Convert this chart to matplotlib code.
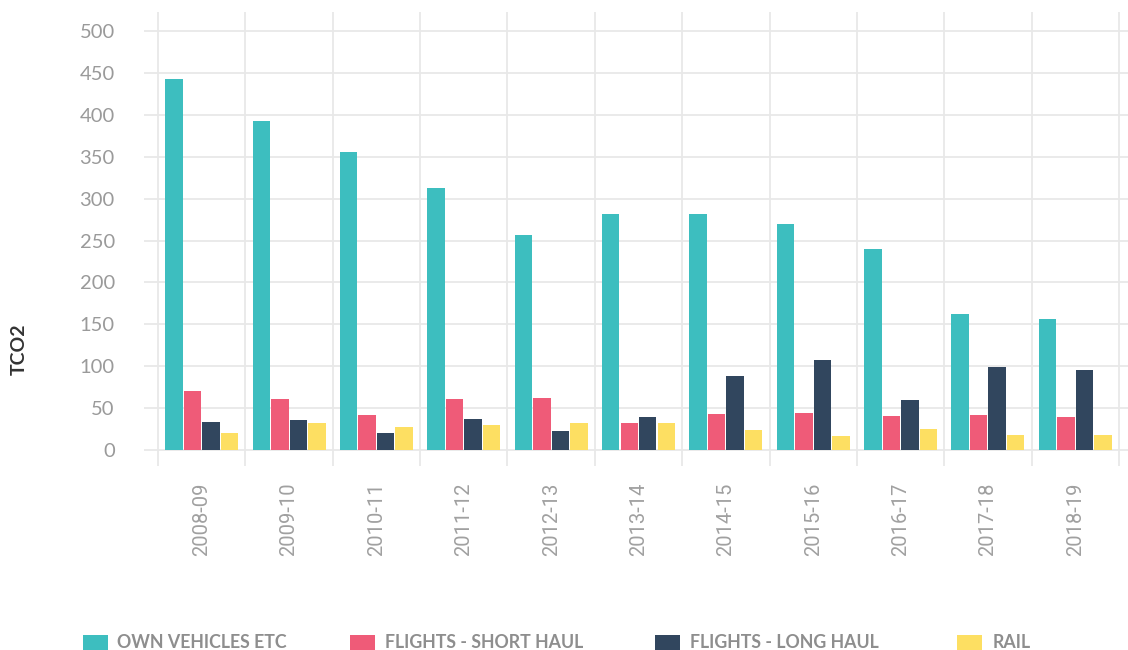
import matplotlib
matplotlib.use("Agg")
import matplotlib.pyplot as plt
import numpy as np
from matplotlib.patches import Rectangle

years = ["2008-09", "2009-10", "2010-11", "2011-12", "2012-13", "2013-14",
         "2014-15", "2015-16", "2016-17", "2017-18", "2018-19"]
own_vehicles = [443, 393, 356, 313, 257, 282, 282, 270, 240, 162, 156]
short_haul = [71, 61, 42, 61, 62, 32, 43, 44, 41, 42, 39]
long_haul = [33, 36, 20, 37, 23, 39, 88, 107, 60, 99, 95]
rail = [20, 32, 28, 30, 32, 32, 24, 17, 25, 18, 18]
series_names = ["OWN VEHICLES ETC", "FLIGHTS - SHORT HAUL", "FLIGHTS - LONG HAUL", "RAIL"]
colors = ["#3DBEBF", "#EF5B78", "#31465E", "#FDDF62"]
yticks = [0, 50, 100, 150, 200, 250, 300, 350, 400, 450, 500]

W, H = 1128, 650
fig = plt.figure(figsize=(W / 100, H / 100), dpi=100)
fig.patch.set_facecolor("white")

ax_left, ax_right, ax_top, ax_bot = 144, 1128, 12, 466
ax = fig.add_axes([ax_left / W, 1 - ax_bot / H, (ax_right - ax_left) / W, (ax_bot - ax_top) / H])

pitch = (1119 - 158) / 11.0
ax.set_xlim(-0.5 - 14 / pitch, 10.5 + 9 / pitch)
ppu = (450 - 31) / 500.0
ax.set_ylim(-16 / ppu, 500 + 19 / ppu)

grid_c = "#E8E8E8"
for v in yticks:
    ax.axhline(v, color=grid_c, lw=1.3, zorder=0)
for b in np.arange(-0.5, len(years) + 0.5, 1.0):
    ax.axvline(b, color=grid_c, lw=1.3, zorder=0)

x = np.arange(len(years))
data = [own_vehicles, short_haul, long_haul, rail]
bp = 0.212
for i, (vals, c) in enumerate(zip(data, colors)):
    ax.bar(x + (i - 1.5) * bp, vals, width=bp - 0.012, color=c, zorder=2, linewidth=0)

for s in ax.spines.values():
    s.set_visible(False)

ax.set_yticks(yticks)
ax.set_yticklabels([str(v) for v in yticks], family="Lato", fontsize=14.5, color="#9A9A9A")
ax.tick_params(axis="y", length=0, pad=21)
ax.set_xticks(x)
ax.set_xticklabels(years, rotation=90, family="Roboto", fontweight="normal",
                   fontsize=14.5, color="#A0A0A0")
ax.tick_params(axis="x", length=0, pad=12)

fig.text(19 / W, 1 - 349 / H, "TCO2", rotation=90, ha="center", va="center",
         family="Lato", fontweight="bold", fontsize=14, color="#333333")

sq_x = [83, 350, 655, 957]
txt_x = [117, 385, 690, 993]
for sx, tx, name, c in zip(sq_x, txt_x, series_names, colors):
    fig.patches.append(Rectangle((sx / W, 1 - 652 / H), 25 / W, 17 / H,
                                 transform=fig.transFigure, facecolor=c,
                                 edgecolor="none", figure=fig))
    fig.text(tx / W, 1 - 643 / H, name, ha="left", va="center", family="Lato",
             fontweight="bold", fontsize=12.8, color="#8E8E8E")

fig.savefig("out.png", dpi=100, facecolor="white")
